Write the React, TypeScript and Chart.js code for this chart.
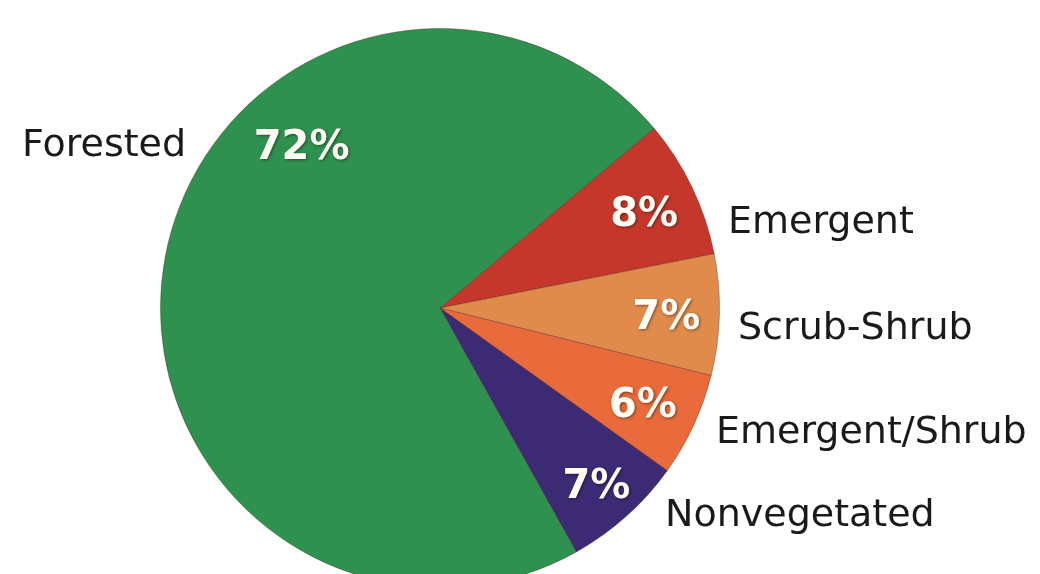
import React, { useEffect, useRef } from "react";
import { Chart, registerables } from "chart.js";

Chart.register(...registerables);

const categories = ["Emergent", "Scrub-Shrub", "Emergent/Shrub", "Nonvegetated", "Forested"];
const shares = [8, 7, 6, 7, 72];
const percentLabels = ["8%", "7%", "6%", "7%", "72%"];
const sliceColors = ["#c4372a", "#e08a4c", "#e96a3a", "#3d2a74", "#2f9150"];

// layout of the outer category labels, relative to the pie centre (left-aligned, middle baseline)
const outerLabelOffsets = [
  [288, -85],
  [298, 21],
  [276, 125],
  [225, 208],
  [-418, -162],
];
// percent label placement: radius fraction and optional angle override (degrees clockwise from top)
const pctRadius = [0.81, 0.81, 0.8, 0.84, 0.77];
const pctAngleOverride = [null, null, null, null, 320];

const labelPlugin = {
  id: "sliceLabels",
  afterDatasetsDraw(chart: any) {
    const ctx = chart.ctx;
    const meta = chart.getDatasetMeta(0);
    ctx.save();
    meta.data.forEach((arc: any, i: number) => {
      const { x, y, outerRadius, startAngle, endAngle } = arc.getProps(
        ["x", "y", "outerRadius", "startAngle", "endAngle"],
        true
      );
      let mid = (startAngle + endAngle) / 2;
      const ov = pctAngleOverride[i];
      if (ov !== null) mid = ((ov - 90) * Math.PI) / 180;
      const r = outerRadius * pctRadius[i];
      const px = x + Math.cos(mid) * r;
      const py = y + Math.sin(mid) * r + 5;
      ctx.font = "bold 40px 'DejaVu Sans', sans-serif";
      ctx.textAlign = "center";
      ctx.textBaseline = "middle";
      ctx.shadowColor = "rgba(0,0,0,0.45)";
      ctx.shadowBlur = 3;
      ctx.shadowOffsetX = 1;
      ctx.shadowOffsetY = 1;
      ctx.fillStyle = "#fffdf4";
      ctx.fillText(percentLabels[i], px, py);
      ctx.shadowColor = "transparent";
      ctx.font = "38px 'DejaVu Sans', sans-serif";
      ctx.textAlign = "left";
      ctx.fillStyle = "#1a1a1a";
      const [ox, oy] = outerLabelOffsets[i];
      ctx.fillText(categories[i], x + ox, y + oy);
    });
    ctx.restore();
  },
};

export default function App() {
  const ref = useRef<HTMLCanvasElement | null>(null);
  useEffect(() => {
    document.body.style.margin = "0";
    document.body.style.overflow = "hidden";
    const chart = new Chart(ref.current as HTMLCanvasElement, {
      type: "pie",
      data: {
        labels: categories,
        datasets: [
          {
            data: shares,
            backgroundColor: sliceColors,
            borderColor: "rgba(70,30,20,0.35)",
            borderWidth: 1,
          },
        ],
      },
      options: {
        responsive: false,
        animation: false,
        rotation: 50,
        layout: { padding: { top: 28, bottom: 12, left: 0, right: 160 } },
        plugins: { legend: { display: false }, tooltip: { enabled: false } },
      },
      plugins: [labelPlugin],
    });
    return () => chart.destroy();
  }, []);
  return (
    <div style={{ width: 1040, height: 574, overflow: "hidden", background: "#fff" }}>
      <canvas ref={ref} width={1040} height={600} style={{ display: "block" }} />
    </div>
  );
}
